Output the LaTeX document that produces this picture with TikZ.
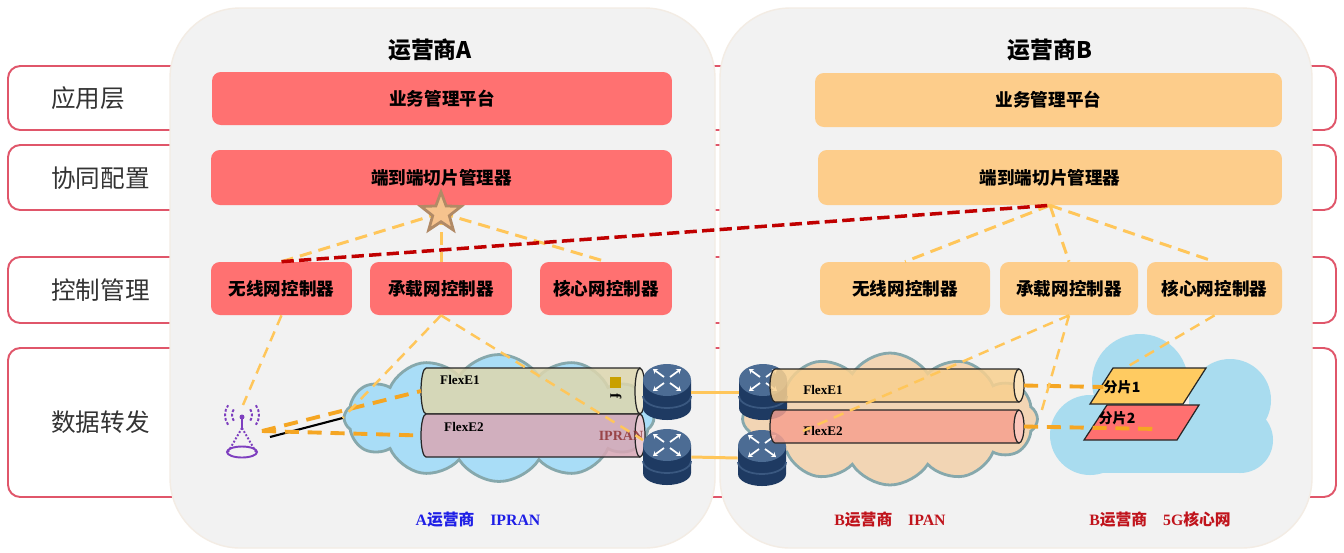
\documentclass[tikz,border=0pt]{standalone}
\usepackage{fontspec}
\setmainfont{Liberation Serif}
\newfontfamily\cjk{Noto Sans CJK SC}
\usetikzlibrary{shapes.geometric,shapes.symbols,arrows.meta}

\definecolor{layerred}{HTML}{E0566A}
\definecolor{panelgray}{HTML}{F2F2F2}
\definecolor{panelrim}{HTML}{F3ECE4}
\definecolor{redbox}{HTML}{FF7171}
\definecolor{orangebox}{HTML}{FDCD8B}
\definecolor{dashyellow}{HTML}{FFC65A}
\definecolor{dashorange}{HTML}{F5A623}
\definecolor{dashred}{HTML}{C00000}
\definecolor{starfill}{HTML}{F6C38E}
\definecolor{starrim}{HTML}{B18A66}
\definecolor{cloudblue}{HTML}{A9DDF7}
\definecolor{cloudpeach}{HTML}{F2D5B4}
\definecolor{cloudrim}{HTML}{86A8AC}
\definecolor{corecloud}{HTML}{A9DCEF}
\definecolor{tubeAa}{HTML}{DDD6AE}
\definecolor{tubeAb}{HTML}{D9A7B5}
\definecolor{tubeBa}{HTML}{F9D08F}
\definecolor{tubeBb}{HTML}{F6A18F}
\definecolor{sliceA}{HTML}{FFCB61}
\definecolor{sliceB}{HTML}{FF7070}
\definecolor{rtdark}{HTML}{1E3A62}
\definecolor{rtface}{HTML}{4C6C94}
\definecolor{antpurple}{HTML}{7E3FBF}
\definecolor{ipranred}{HTML}{8B2B2B}
\definecolor{netblue}{HTML}{1F1FE6}
\definecolor{netred}{HTML}{C0141C}
\definecolor{markgold}{HTML}{C9A000}

\tikzset{
  layerbox/.style={draw=layerred, line width=1.1pt, fill=white, rounded corners=7pt},
  layertxt/.style={anchor=west, inner sep=0, text=black!80, font=\cjk\fontsize{14}{16}\selectfont},
  panel/.style={fill=panelgray, draw=panelrim, line width=0.8pt, rounded corners=40pt},
  optitle/.style={font=\cjk\bfseries\fontsize{13}{15}\selectfont},
  boxA/.style={fill=redbox, rounded corners=5pt, inner sep=0, font=\cjk\bfseries\fontsize{10}{12}\selectfont},
  boxB/.style={boxA, fill=orangebox},
  ctrldash/.style={draw=dashyellow, line width=1.7pt, dash pattern=on 7pt off 4pt},
  linkdash/.style={draw=dashyellow, line width=1.4pt, dash pattern=on 6pt off 4pt},
  reddash/.style={draw=dashred, line width=2pt, dash pattern=on 7pt off 3pt},
  flexdash/.style={draw=dashorange, line width=2.2pt, dash pattern=on 8pt off 5pt},
  rtlink/.style={draw=dashyellow, line width=1.7pt},
  pipeline/.style={draw=black!85, line width=0.7pt},
  flexlbl/.style={inner sep=0, font=\bfseries\fontsize{7.5}{9}\selectfont},
  slicelbl/.style={inner sep=0, font=\cjk\bfseries\fontsize{8}{9}\selectfont},
  netlbl/.style={font=\bfseries\fontsize{9}{11}\selectfont},
  antwave/.style={antpurple, line width=1.1pt, dash pattern=on 1.6pt off 1pt},
  netcloud/.style={cloud, cloud puffs=12, cloud puff arc=115, draw=cloudrim, line width=1.6pt, inner sep=0},
}

% pipe lying flat: x left, x of end cap, y centre, half height, body colour, cap colour, name
\newcommand{\tube}[7]{
  \fill[#5, fill opacity=0.85] (#1,{#3-#4}) -- (#2,{#3-#4}) arc[start angle=-90, end angle=90, x radius=5, y radius=#4] -- (#1,{#3+#4}) arc[start angle=90, end angle=270, x radius=5, y radius=#4] -- cycle;
  \draw[pipeline] (#1,{#3-#4}) -- (#2,{#3-#4}) (#2,{#3+#4}) -- (#1,{#3+#4}) arc[start angle=90, end angle=270, x radius=5, y radius=#4];
  \draw[pipeline, fill=#6] (#2,#3) ellipse[x radius=5, y radius=#4];
  \coordinate (#7-w) at ({#1-5},#3);
  \coordinate (#7-e) at ({#2+5},#3);
}

% router icon: x, y, name
\newcommand{\router}[3]{
  \fill[rtdark] ({#1-24},{#2-12}) -- ({#1-24},{#2+16}) arc[start angle=180, end angle=0, x radius=24, y radius=12] -- ({#1+24},{#2-12}) -- cycle;
  \draw[rtface!60!rtdark, line width=1pt] ({#1-24},{#2+4}) arc[start angle=180, end angle=0, x radius=24, y radius=12];
  \fill[rtface] (#1,{#2-12}) ellipse[x radius=24, y radius=16];
  \draw[white, line width=1pt, -{Stealth[length=2.5pt,width=3.5pt]}] ({#1-3},{#2-15}) -- ({#1-14},{#2-23});
  \draw[white, line width=1pt, -{Stealth[length=2.5pt,width=3.5pt]}] ({#1+3},{#2-15}) -- ({#1+14},{#2-23});
  \draw[white, line width=1pt, -{Stealth[length=2.5pt,width=3.5pt]}] ({#1-3},{#2-9}) -- ({#1-14},{#2-1});
  \draw[white, line width=1pt, -{Stealth[length=2.5pt,width=3.5pt]}] ({#1+3},{#2-9}) -- ({#1+14},{#2-1});
  \node[inner sep=0, minimum width=0.96cm, minimum height=1.12cm] (#3) at (#1,#2) {};
}

\begin{document}
\begin{tikzpicture}[x=0.02cm, y=-0.02cm]
    \useasboundingbox (0,0) rectangle (1344,552);
    \fill[white] (0,0) rectangle (1344,552);

    % layers
    \draw[layerbox] (8,66) rectangle (1336,130);
    \draw[layerbox] (8,145) rectangle (1336,210);
    \draw[layerbox] (8,257) rectangle (1336,323);
    \draw[layerbox] (8,348) rectangle (1336,497);
    \node[layertxt] (lApp) at (51,98) {应用层};
    \node[layertxt] (lSync) at (51,178) {协同配置};
    \node[layertxt] (lCtrl) at (51,290) {控制管理};
    \node[layertxt] (lFwd) at (51,422) {数据转发};

    % operator panels
    \draw[panel] (170,8) rectangle (715,548);
    \draw[panel] (720,8) rectangle (1312,548);
    \node[optitle] (opA) at (430,50) {运营商A};
    \node[optitle] (opB) at (1050,50) {运营商B};

    % operator A
    \node[boxA, minimum width=9.2cm, minimum height=1.06cm] (bizA) at (442,98.5) {业务管理平台};
    \node[boxA, minimum width=9.22cm, minimum height=1.1cm] (e2eA) at (441.5,177.5) {端到端切片管理器};
    \node[boxA, minimum width=2.82cm, minimum height=1.06cm] (ranA) at (281.5,288.5) {无线网控制器};
    \node[boxA, minimum width=2.84cm, minimum height=1.06cm] (bearA) at (441,288.5) {承载网控制器};
    \node[boxA, minimum width=2.64cm, minimum height=1.06cm] (coreA) at (606,288.5) {核心网控制器};

    % operator B
    \node[boxB, minimum width=9.34cm, minimum height=1.08cm] (bizB) at (1048.5,100) {业务管理平台};
    \node[boxB, minimum width=9.28cm, minimum height=1.1cm] (e2eB) at (1050,177.5) {端到端切片管理器};
    \node[boxB, minimum width=3.4cm, minimum height=1.06cm] (ranB) at (905,288.5) {无线网控制器};
    \node[boxB, minimum width=2.76cm, minimum height=1.06cm] (bearB) at (1069,288.5) {承载网控制器};
    \node[boxB, minimum width=2.7cm, minimum height=1.06cm] (coreB) at (1214.5,288.5) {核心网控制器};

    % clouds
    \node[netcloud, aspect=2.4, fill=cloudblue, minimum width=6.2cm, minimum height=2.54cm] (cloudA) at (499,418) {};
    \node[netcloud, aspect=2.2, fill=cloudpeach, minimum width=5.9cm, minimum height=2.64cm] (cloudB) at (890,419) {};
    \fill[corecloud] (1090,435) circle[radius=40] (1140,382) circle[radius=48] (1230,400) circle[radius=41] (1240,440) circle[radius=33];
    \fill[corecloud] (1090,410) rectangle (1240,473);

    % slices
    \draw[pipeline, fill=sliceA] (1113,368) -- (1206,368) -- (1183,404) -- (1090,404) -- cycle;
    \draw[pipeline, fill=sliceB] (1107,405) -- (1199,405) -- (1177,440) -- (1084,440) -- cycle;
    \node[slicelbl] (sl1) at (1122,387) {分片1};
    \node[slicelbl] (sl2) at (1117,418) {分片2};
    \coordinate (sliceTop) at (1125,368);
    \coordinate (sl2end) at (1158,429);

    % routers and pipes
    \router{763}{392}{rB1}
    \router{762}{458}{rB2}
    \tube{426}{640}{391}{23}{tubeAa}{tubeAa!60!white}{tA1}
    \tube{426}{640}{435.5}{21.5}{tubeAb}{tubeAb!60!white}{tA2}
    \tube{775}{1019}{385.5}{16.5}{tubeBa}{tubeBa!60!white}{tB1}
    \tube{775}{1019}{426.5}{16.5}{tubeBb}{tubeBb!60!white}{tB2}
    \router{667}{392}{rA1}
    \router{667}{457}{rA2}
    \draw[rtlink] (rA1.east) -- (rB1.west);
    \draw[rtlink] (rA2.east) -- (rB2.west);

    \node[flexlbl] (fA1) at (460,380) {FlexE1};
    \node[flexlbl] (fA2) at (464,427) {FlexE2};
    \node[flexlbl] (fB1) at (823,390) {FlexE1};
    \node[flexlbl] (fB2) at (823,431) {FlexE2};
    \node[inner sep=0, text=ipranred, text opacity=0.8, font=\bfseries\fontsize{8}{9}\selectfont] (ipran) at (621,436) {IPRAN};
    \fill[markgold] (610,377) rectangle (621,388);
    \node[inner sep=0, rotate=-90, font=\bfseries\fontsize{9}{10}\selectfont] (fmark) at (616,396) {f};

    % antenna
    \draw[antpurple, line width=1pt] (242,418) -- (242,428);
    \fill[antpurple] (242,417) circle[radius=2.5];
    \draw[antpurple, line width=1.1pt, densely dotted] (242,428) -- (228,452) (242,428) -- (256,452);
    \draw[antpurple, line width=1.1pt] (242,452) ellipse[x radius=15, y radius=5.5];
    \foreach \r in {10,17} {
        \draw[antwave] (242,415) ++(145:\r) arc[start angle=145, end angle=215, radius=\r];
        \draw[antwave] (242,415) ++(-35:\r) arc[start angle=-35, end angle=35, radius=\r];
    }
    \coordinate (antTop) at (243,405);
    \coordinate (antFeed) at (262,431);
    \coordinate (antCable) at (270,437);
    \coordinate (ipranEnd) at (643,440);
    \coordinate (capGap) at (1041,413);

    \draw[black, line width=1.2pt] (antCable) -- (cloudA.west);
    \draw[flexdash] (antFeed) -- (tA1-w);
    \draw[flexdash] (antFeed) -- (tA2-w);
    \draw[flexdash] (tB1-e) -- (sl1.west);
    \draw[flexdash] (tB2-e) -- (sl2end);

    % controllers down to the network
    \draw[linkdash] (ranA.south) -- (antTop);
    \draw[linkdash] (bearA.south) -- (cloudA.west);
    \draw[linkdash] (bearA.south) -- (ipranEnd);
    \draw[linkdash] (bearB.south) -- (fB2.west);
    \draw[linkdash] (bearB.south) -- (capGap);
    \draw[linkdash] (coreB.south) -- (sliceTop);

    % slice managers to controllers
    \coordinate (hub) at (441,213);
    \draw[ctrldash] (hub) -- (ranA.north);
    \draw[ctrldash] (hub) -- (bearA.north);
    \draw[ctrldash] (hub) -- (coreA.north);
    \draw[ctrldash] (e2eB.south) -- (ranB.north);
    \draw[ctrldash] (e2eB.south) -- (bearB.north);
    \draw[ctrldash] (e2eB.south) -- (coreB.north);
    \draw[reddash] (ranA.north) -- (e2eB.south);
    \node[star, star points=5, star point ratio=2.4, fill=starfill, draw=starrim, line width=1.6pt, inner sep=0, minimum size=0.84cm] (star) at (hub) {};

    % network names
    \node[netlbl, text=netblue] (netA) at (478,520) {A{\cjk 运营商}\quad IPRAN};
    \node[netlbl, text=netred] (netB) at (890,520) {B{\cjk 运营商}\quad IPAN};
    \node[netlbl, text=netred] (netC) at (1160,520) {B{\cjk 运营商}\quad 5G{\cjk 核心网}};
\end{tikzpicture}
\end{document}
